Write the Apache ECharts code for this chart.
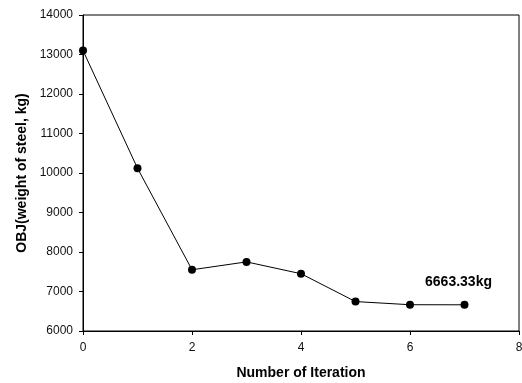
<!DOCTYPE html>
<html>
<head>
<meta charset="utf-8">
<script src="https://cdn.jsdelivr.net/npm/echarts@6/dist/echarts.min.js"></script>
<style>
  html, body { margin: 0; padding: 0; background: #fff; }
  #chart { width: 522px; height: 383px; }
</style>
</head>
<body>
<div id="chart"></div>
<script>
// Objective value (steel weight) per optimisation iteration
const iterations = [0, 1, 2, 3, 4, 5, 6, 7];
const steelWeight = [13100, 10120, 7550, 7750, 7450, 6745, 6665, 6663.33];
const finalLabel = '6663.33kg';

const font = '"Liberation Sans", Arial, sans-serif';
const points = iterations.map((x, i) => [x, steelWeight[i]]);
const lastIndex = points.length - 1;

const chart = echarts.init(document.getElementById('chart'), null, { renderer: 'canvas' });
chart.setOption({
  animation: false,
  backgroundColor: '#fff',
  grid: {
    left: 83, right: 3, top: 15, bottom: 52,
    outerBoundsMode: 'none', containLabel: false,
    show: true, borderColor: '#000', borderWidth: 1, backgroundColor: 'transparent'
  },
  xAxis: {
    type: 'value', min: 0, max: 8, interval: 2,
    name: 'Number of Iteration', nameLocation: 'middle', nameGap: 35,
    nameTextStyle: { fontFamily: font, fontSize: 14, fontWeight: 'bold', color: '#000' },
    axisLine: { show: true, lineStyle: { color: '#000', width: 1 } },
    axisTick: { show: true, inside: false, length: 4, lineStyle: { color: '#000' } },
    axisLabel: { fontFamily: font, fontSize: 12, color: '#111', margin: 11 },
    splitLine: { show: false }
  },
  yAxis: {
    type: 'value', min: 6000, max: 14000, interval: 1000,
    name: 'OBJ(weight of steel, kg)', nameLocation: 'middle', nameGap: 54, nameRotate: 90,
    nameTextStyle: { fontFamily: font, fontSize: 14, fontWeight: 'bold', color: '#000' },
    axisLine: { show: true, lineStyle: { color: '#000', width: 1 } },
    axisTick: { show: true, inside: false, length: 4, lineStyle: { color: '#000' } },
    axisLabel: {
      fontFamily: font, fontSize: 12, color: '#111', margin: 10,
      formatter: v => String(v)
    },
    splitLine: { show: false }
  },
  series: [{
    type: 'line',
    data: points.map((p, i) => i === lastIndex ? {
      value: p,
      label: {
        show: true, position: 'top', offset: [-6, -7],
        formatter: finalLabel,
        fontFamily: font, fontSize: 14, fontWeight: 'bold', color: '#000'
      }
    } : p),
    symbol: 'circle', symbolSize: 8,
    itemStyle: { color: '#000' },
    lineStyle: { color: '#000', width: 1 },
    label: { show: false }
  }]
});
</script>
</body>
</html>
